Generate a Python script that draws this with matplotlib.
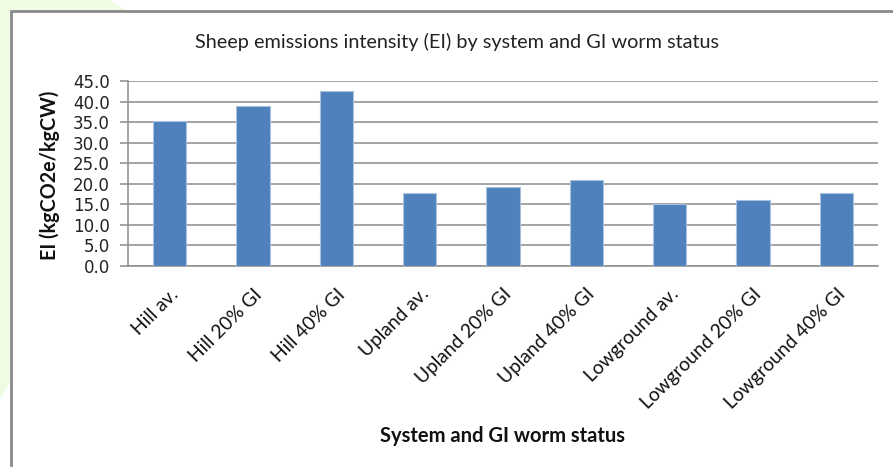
import numpy as np
import matplotlib.pyplot as plt
from matplotlib.patches import Rectangle, Polygon

# Values
categories = ['Hill av.', 'Hill 20% GI', 'Hill 40% GI',
              'Upland av.', 'Upland 20% GI', 'Upland 40% GI',
              'Lowground av.', 'Lowground 20% GI', 'Lowground 40% GI']
ei_values = [35.3, 38.9, 42.6, 17.7, 19.2, 21.0, 15.0, 16.1, 17.7]
y_ticks = [0, 5, 10, 15, 20, 25, 30, 35, 40, 45]

W, H = 893, 467
fig = plt.figure(figsize=(W / 100, H / 100), dpi=100)

# light green decoration behind the chart box
green = Polygon([(0, 1), (110 / W, 1), (140 / W, 1 - 20 / H), (11 / W, 1 - 20 / H),
                 (11 / W, 1 - 380 / H), (0, 1 - 400 / H)],
                closed=True, transform=fig.transFigure, facecolor='#effbe3',
                edgecolor='none', zorder=-2)
fig.patches.append(green)

# chart area box (runs off the right and bottom edge)
box = Rectangle((11 / W, -0.1), 1.2, 1 - 11 / H + 0.1, transform=fig.transFigure,
                facecolor='white', edgecolor='#8a8a8a', linewidth=2, zorder=-1)
fig.patches.append(box)

ax = fig.add_axes([128 / W, 1 - 266 / H, 750 / W, 185 / H])
ax.set_facecolor('none')

x = np.arange(len(categories))
ax.bar(x, ei_values, width=0.4, color='#4f81bd', edgecolor='#a9c0df',
       linewidth=0.8, zorder=3)

ax.set_xlim(-0.5, len(categories) - 0.5)
ax.set_ylim(0, 45)
ax.set_yticks(y_ticks)
ax.set_yticklabels([f'{v:.1f}' for v in y_ticks], fontsize=12,
                   family='DejaVu Sans', color='#222222')
ax.set_xticks(x)
ax.set_xticklabels(categories, rotation=45, ha='right', va='top',
                   rotation_mode='anchor', fontsize=13.8, family='Lato',
                   color='#111111')

ax.grid(True, axis='y', color='#8c8c8c', linewidth=1.1, zorder=0)
for s in ['top', 'right']:
    ax.spines[s].set_visible(False)
ax.spines['left'].set_color('#8c8c8c')
ax.spines['bottom'].set_color('#8c8c8c')
ax.spines['left'].set_linewidth(1.1)
ax.spines['bottom'].set_linewidth(1.1)
ax.tick_params(axis='y', length=6, color='#8c8c8c', width=1.1, pad=7)
ax.tick_params(axis='x', length=0, pad=14)

fig.text(457 / W, 1 - 42 / H, 'Sheep emissions intensity (EI) by system and GI worm status',
         ha='center', va='center', fontsize=14.3, family='Lato', color='#222222')
fig.text(503 / W, 1 - 436 / H, 'System and GI worm status', ha='center', va='center',
         fontsize=14.5, family='Lato', fontweight='bold', color='#111111')
fig.text(50 / W, 1 - 175 / H, 'EI (kgCO2e/kgCW)', ha='center', va='center', rotation=90,
         fontsize=14.2, family='Lato', fontweight='bold', color='#111111')

fig.savefig('out.png', dpi=100)
